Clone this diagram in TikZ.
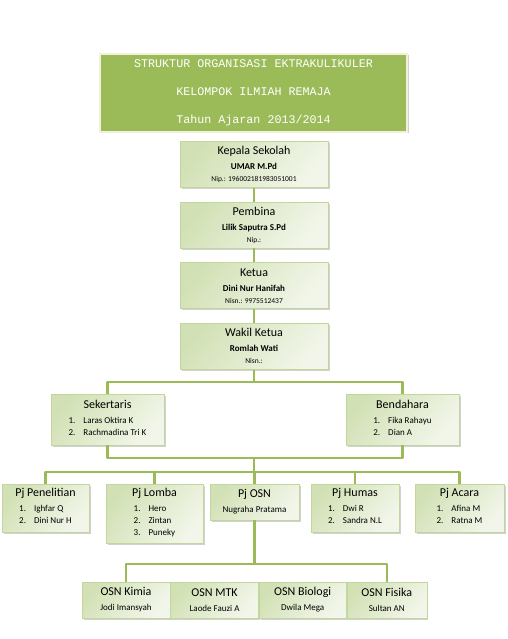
\documentclass[tikz,border=0pt]{standalone}
\usepackage{fontspec}
\setmainfont{Carlito}
\newfontfamily\judulfont{Liberation Mono}
\usetikzlibrary{positioning,shadows}
\definecolor{Hijau}{HTML}{9BBB59}
\definecolor{Bingkai}{HTML}{C3D69B}
\definecolor{KotakTua}{HTML}{D2E1B5}
\definecolor{KotakMuda}{HTML}{F2F6EA}
\definecolor{Krem}{HTML}{F4F1D9}
\newcommand{\jab}[1]{{\fontsize{12}{12}\selectfont #1}}
\newcommand{\nama}[1]{{\bfseries #1}}
\newcommand{\nomor}[1]{{\fontsize{7.5}{9}\selectfont #1}}
\newcommand{\daftar}[2]{\begin{tabular}[t]{@{}l@{\hspace{8pt}}l@{}}1. & #1\\ 2. & #2\end{tabular}}

\begin{document}
\begin{tikzpicture}[x=1pt,y=-1pt,font=\fontsize{9}{12}\selectfont,node distance=14pt,garis/.style={draw=Hijau,line width=2.2pt,line join=round},kotak/.style={rectangle,draw=Bingkai,line width=0.6pt,top color=KotakTua,bottom color=KotakMuda,shading angle=50,inner sep=0pt,align=center,drop shadow={shadow xshift=1.5pt,shadow yshift=-1.5pt,fill=black!40,opacity=.45}},atas/.style={kotak,minimum width=148pt,minimum height=46pt},judul/.style={rectangle,fill=Hijau,draw=Krem,line width=2pt,text=white,font=\judulfont\fontsize{11.7}{28}\selectfont,align=center,minimum width=307pt,minimum height=78pt,drop shadow={shadow xshift=1.5pt,shadow yshift=-1.5pt,fill=black!40,opacity=.45}}]
\fill[white] (0,0) rectangle (507,639);
\useasboundingbox (0,0) rectangle (507,639);
\node[judul] (judul) at (253.5,93) {STRUKTUR ORGANISASI EKTRAKULIKULER\\KELOMPOK ILMIAH REMAJA\\Tahun Ajaran 2013/2014};
\node[atas] (kepsek) at (254,164.5) {\jab{Kepala Sekolah}\\[3pt]\nama{UMAR M.Pd}\\\nomor{Nip.: 196002181983051001}};
\node[atas,below=of kepsek] (pembina) {\jab{Pembina}\\[3pt]\nama{Lilik Saputra S.Pd}\\\nomor{Nip.:}};
\node[atas,below=of pembina] (ketua) {\jab{Ketua}\\[3pt]\nama{Dini Nur Hanifah}\\\nomor{Nisn.: 9975512437}};
\node[atas,below=of ketua] (wakil) {\jab{Wakil Ketua}\\[3pt]\nama{Romlah Wati}\\\nomor{Nisn.:}};
\node[kotak,minimum width=113pt,minimum height=51pt] (sekretaris) at (107.5,419.5) {\jab{Sekertaris}\\[3pt]\daftar{Laras Oktira K}{Rachmadina Tri K}};
\node[kotak,minimum width=113pt,minimum height=51pt] (bendahara) at (402.5,419.5) {\jab{Bendahara}\\[3pt]\daftar{Fika Rahayu}{Dian A}};
\node[kotak,minimum width=87pt,minimum height=48pt] (penelitian) at (45.5,508) {\jab{Pj Penelitian}\\[3pt]\daftar{Ighfar Q}{Dini Nur H}};
\node[kotak,minimum width=97pt,minimum height=59pt] (lomba) at (154.5,513.5) {\jab{Pj Lomba}\\[3pt]\begin{tabular}[t]{@{}l@{\hspace{8pt}}l@{}}1. & Hero\\ 2. & Zintan\\ 3. & Puneky\end{tabular}};
\node[kotak,minimum width=89pt,minimum height=36pt] (pjosn) at (254.5,502) {\jab{Pj OSN}\\[3pt]Nugraha Pratama};
\node[kotak,minimum width=88pt,minimum height=48pt] (humas) at (355,508) {\jab{Pj Humas}\\[3pt]\daftar{Dwi R}{Sandra N.L}};
\node[kotak,minimum width=89pt,minimum height=48pt] (acara) at (459.5,508) {\jab{Pj Acara}\\[3pt]\daftar{Afina M}{Ratna M}};
\node[kotak,minimum width=88pt,minimum height=36pt] (kimia) at (126,600) {\jab{OSN Kimia}\\[3pt]Jodi Imansyah};
\node[kotak,minimum width=88pt,minimum height=36pt,right=0pt of kimia] (mtk) {\jab{OSN MTK}\\[3pt]Laode Fauzi A};
\node[kotak,minimum width=87pt,minimum height=36pt,right=0pt of mtk] (biologi) {\jab{OSN Biologi}\\[3pt]Dwila Mega};
\node[kotak,minimum width=80pt,minimum height=36pt,right=0pt of biologi] (fisika) {\jab{OSN Fisika}\\[3pt]Sultan AN};
% garis penghubung
\draw[garis] (kepsek)--(pembina)--(ketua)--(wakil);
\draw[garis] (wakil.south)--++(0,12) coordinate (cabang1);
\draw[garis] (sekretaris.north) |- (cabang1) -| (bendahara.north);
\draw[garis] (sekretaris.south)--++(0,13) coordinate (cabang2) -| (bendahara.south);
\draw[garis] (cabang2 -| wakil)--++(0,14) coordinate (cabang3);
\draw[garis] (penelitian.north) |- (cabang3) -| (acara.north);
\foreach \n in {lomba,pjosn,humas} \draw[garis] (\n.north)--(\n.north |- cabang3);
\draw[garis] (pjosn.south)--++(0,44) coordinate (cabang4);
\draw[garis] (kimia.north) |- (cabang4) -| (fisika.north);
\end{tikzpicture}
\end{document}
